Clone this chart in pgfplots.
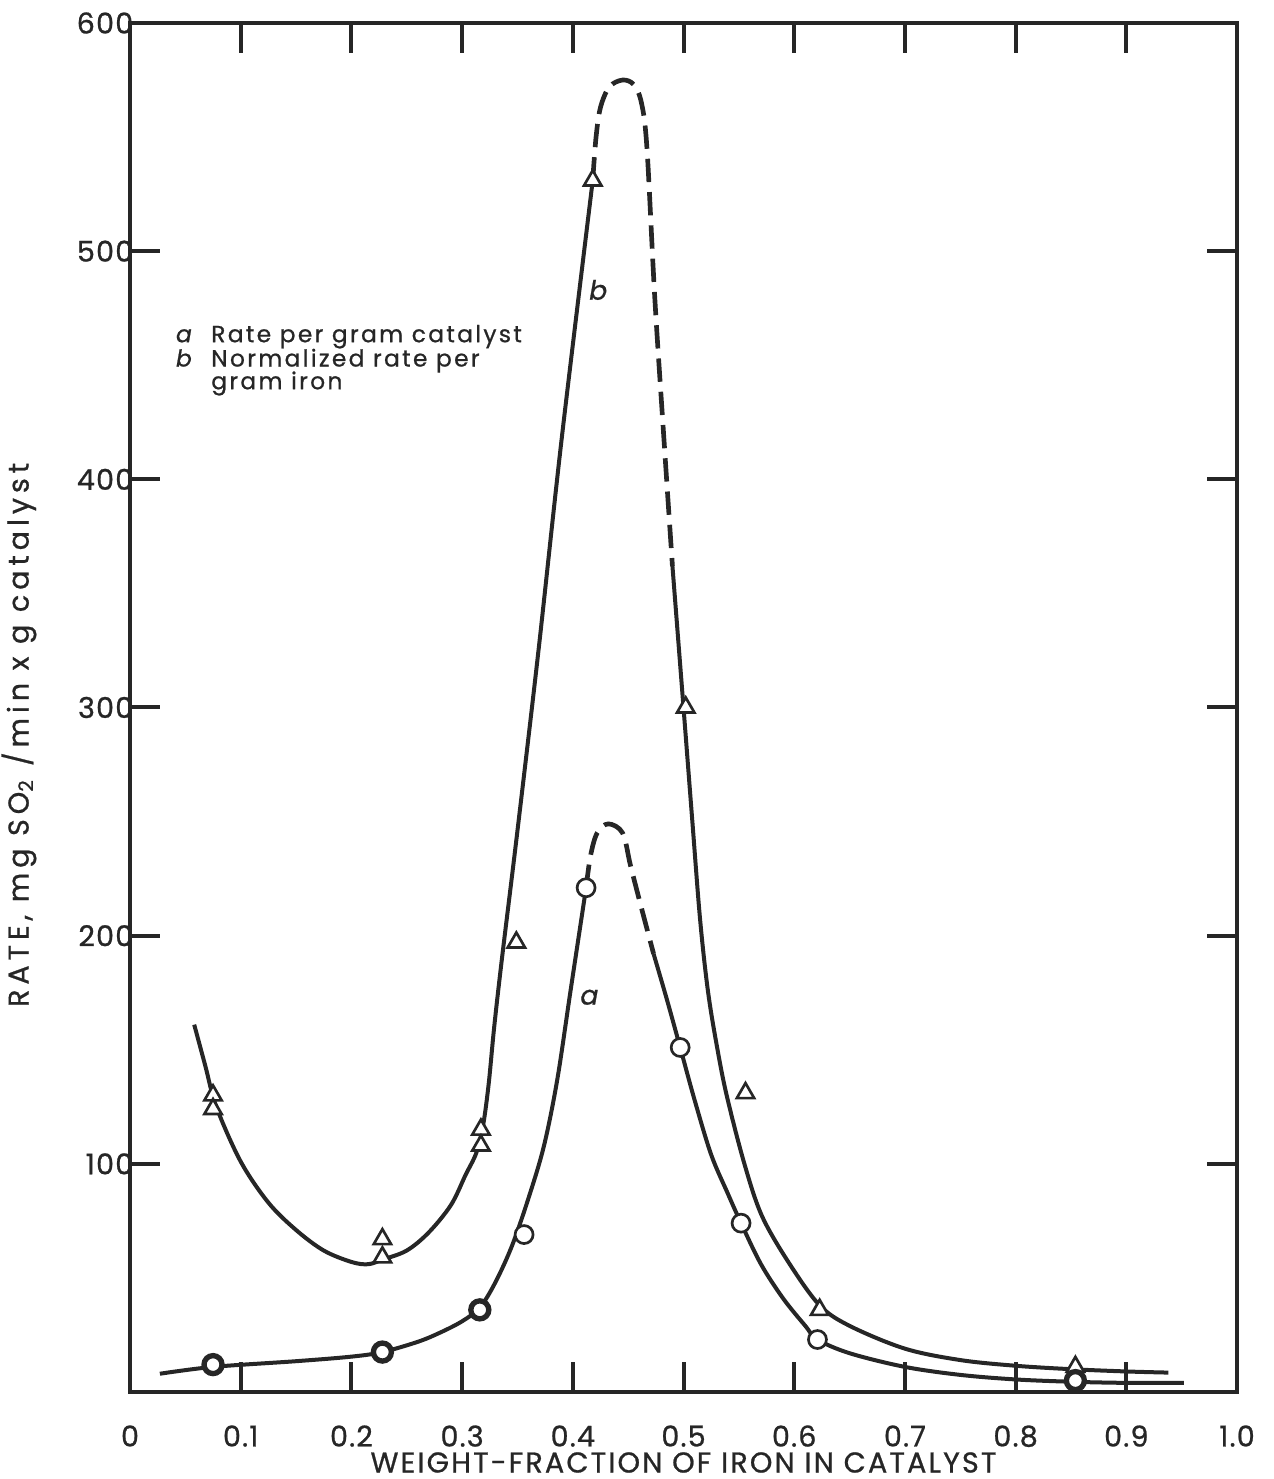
\documentclass[border=0pt]{standalone}
\usepackage{fontspec}
\setmainfont{Poppins}
\newfontfamily\tickf[LetterSpace=4, FakeBold=0.8]{Poppins}
\newfontfamily\xlabf[LetterSpace=7.5, FakeBold=0.8]{Poppins}
\newfontfamily\ylabf[LetterSpace=17, FakeBold=0.8]{Poppins}
\newfontfamily\legf[LetterSpace=10, FakeBold=0.8]{Poppins}
\usepackage{pgfplots}
\usepackage{pgfplotstable}
\pgfplotsset{compat=1.18}

% Curve a (rate per gram catalyst)
\pgfplotstableread{
x y
0.027 8
0.075 11
0.15 13.5
0.20 15.5
0.228 17.5
0.26 22
0.28 26
0.30 31
0.316 37
0.33 48
0.345 64
0.36 85
0.374 108
0.386 137
0.398 176
0.412 221
}\aleft
\pgfplotstableread{
x y
0.412 221
0.416 235
0.422 245
0.432 249
0.445 245
0.452 231
0.461 214
0.473 192
}\adash
\pgfplotstableread{
x y
0.473 192
0.485 172
0.497 151
0.51 128
0.525 104
0.54 87
0.552 74
0.57 56
0.59 41
0.61 29
0.621 23
0.65 17
0.70 11
0.75 7.5
0.80 5.5
0.85 4.5
0.90 4
0.952 4
}\aright
% Curve b (normalized rate per gram iron)
\pgfplotstableread{
x y
0.058 161
0.068 143
0.078 125
0.10 101
0.125 83
0.15 71
0.175 62
0.20 57
0.215 56
0.228 58
0.25 62
0.27 70
0.29 82
0.303 95
0.313 105
0.319 117
0.324 135
0.329 160
0.336 190
0.35 246
0.369 325
0.39 418
0.418 531
}\bleft
\pgfplotstableread{
x y
0.418 531
0.421 550
0.425 563
0.433 572
0.445 575
0.455 573
0.462 565
0.467 545
0.474 480
0.482 420
0.49 362
}\bdash
\pgfplotstableread{
x y
0.49 362
0.50 300
0.508 250
0.515 207
0.522 176
0.53 152
0.539 130
0.555 100
0.571 77
0.596 56
0.623 38
0.65 29
0.70 19
0.75 14
0.80 11.5
0.85 10
0.90 9
0.938 8.5
}\bright
\pgfplotstableread{
x y
0.075 130
0.075 124
0.228 67
0.228 59
0.317 115
0.317 108
0.349 197
0.418 531
0.502 300
0.556 131
0.623 36
0.854 11
}\btri
\pgfplotstableread{
x y
0.356 69
0.412 221
0.497 151
0.552 74
0.621 23
}\acirc
\pgfplotstableread{
x y
0.075 12
0.228 17.5
0.316 36
0.854 5
}\acircbold
\begin{document}
\begin{tikzpicture}[x=1pt,y=1pt]
\begin{axis}[
  at={(0,0)}, anchor=south west,
  scale only axis, width=332.1pt, height=410.7pt,
  xmin=0, xmax=1, ymin=0, ymax=600,
  xtick={0,0.1,0.2,0.3,0.4,0.5,0.6,0.7,0.8,0.9,1},
  xticklabels={0,0.1,0.2,0.3,0.4,0.5,0.6,0.7,0.8,0.9,1.0},
  ytick={100,200,300,400,500,600},
  yticklabels={100,200,300,400,500,600},
  tick align=inside, major tick length=9pt,
  axis line style={line width=1.2pt, black!85},
  every tick/.style={line width=1.2pt, black!85},
  tick label style={font=\tickf\fontsize{8.6}{10}\selectfont, text=black!85},
  xticklabel style={yshift=-6.5pt},
  yticklabel style={xshift=4.5pt},
  xlabel={WEIGHT-FRACTION OF IRON IN CATALYST},
  ylabel={RATE, mg SO\textsubscript{2} /min x g catalyst},
  xlabel style={font=\xlabf\fontsize{8.6}{10}\selectfont, text=black!85, inner sep=0pt, at={(axis description cs:0.5,-0.0515)}, anchor=center},
  ylabel style={font=\ylabf\fontsize{8.6}{10}\selectfont, text=black!85, inner sep=0pt, at={(axis description cs:-0.1003,0.48)}, anchor=center},
  clip=false,
]
\addplot[black!85, line width=1.2pt, smooth, tension=0.55] table {\aleft};
\addplot[black!85, line width=1.4pt, smooth, tension=0.55, dash pattern=on 7pt off 3pt] table {\adash};
\addplot[black!85, line width=1.2pt, smooth, tension=0.55] table {\aright};
\addplot[black!85, line width=1.2pt, smooth, tension=0.55] table {\bleft};
\addplot[black!85, line width=1.4pt, smooth, tension=0.55, dash pattern=on 7pt off 3pt] table {\bdash};
\addplot[black!85, line width=1.2pt, smooth, tension=0.55] table {\bright};
\addplot[only marks, mark=triangle*, mark size=3pt, mark options={draw=black!85, fill=white, line width=0.8pt}] table {\btri};
\addplot[only marks, mark=*, mark size=2.7pt, mark options={draw=black!85, fill=white, line width=0.8pt}] table {\acirc};
\addplot[only marks, mark=*, mark size=2.7pt, mark options={draw=black!85, fill=white, line width=1.6pt}] table {\acircbold};
\node[font=\legf\fontsize{8}{10}\selectfont\itshape, text=black!85] at (axis cs:0.423,483) {b};
\node[font=\legf\fontsize{8}{10}\selectfont\itshape, text=black!85] at (axis cs:0.415,173) {a};
\node[anchor=west, inner sep=0pt, font=\legf\fontsize{7}{9}\selectfont, text=black!85] at (axis cs:0.041,462.5) {\textit{a}\ \ Rate per gram catalyst};
\node[anchor=west, inner sep=0pt, font=\legf\fontsize{7}{9}\selectfont, text=black!85] at (axis cs:0.041,452) {\textit{b}\ \ Normalized rate per};
\node[anchor=west, inner sep=0pt, font=\legf\fontsize{7}{9}\selectfont, text=black!85] at (axis cs:0.041,442) {\phantom{\textit{b}}\ \ gram iron};
\end{axis}
\pgfresetboundingbox
\path[use as bounding box] (-39pt,-26.1pt) rectangle (343.2pt,417.6pt);
\end{tikzpicture}
\end{document}
